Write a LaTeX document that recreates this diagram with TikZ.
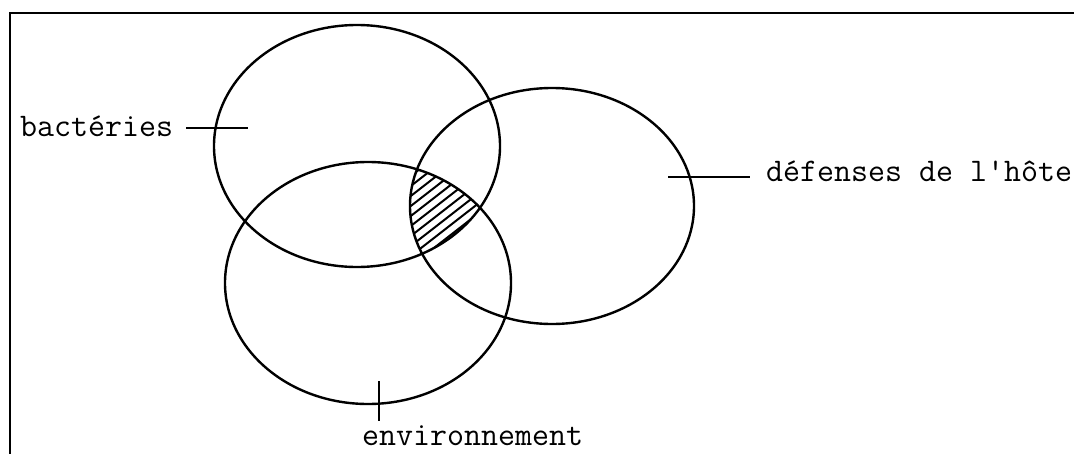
\documentclass[tikz,border=0pt]{standalone}
\usepackage{fontspec}
\usepackage{tikz}

\begin{document}
\begin{tikzpicture}[x=1pt,y=-1pt,
    ring/.style={line width=2.4pt},
    leader/.style={line width=2.6pt},
    hatch/.style={line width=2pt},
    lbl/.style={font=\fontsize{33}{33}\selectfont\ttfamily\addfontfeatures{FakeBold=1.2},inner sep=0pt}]
  \useasboundingbox (0,0) rectangle (1074,453);
  % frame, cut off at the right and at the bottom
  \draw[line width=2pt] (10,470) -- (10,13) -- (1090,13);
  % centres of the three sets
  \coordinate (cBac) at (357,146);
  \coordinate (cEnv) at (368,283);
  \coordinate (cDef) at (552,206);
  \draw[ring] (cBac) ellipse [x radius=143,y radius=121];
  \draw[ring] (cEnv) ellipse [x radius=143,y radius=121];
  \draw[ring] (cDef) ellipse [x radius=142,y radius=118];
  % hatched overlap of all three
  \begin{scope}
    \clip (cBac) ellipse [x radius=143,y radius=121];
    \clip (cEnv) ellipse [x radius=143,y radius=121];
    \clip (cDef) ellipse [x radius=142,y radius=118];
    \foreach \c in {150,160,...,320}{
      \draw[hatch] (380,\c) -- ++(140,-109);
    }
  \end{scope}
  % labels and their leaders
  \node[lbl,anchor=base west] (bac) at (20,136) {bactéries};
  \coordinate (bacTip) at (248,128);
  \draw[leader] ([xshift=13]bac.east |- bacTip) -- (bacTip);
  \node[lbl,anchor=base west] (def) at (766,181) {défenses de l\textquotesingle hôte};
  \coordinate (defTip) at (668,177);
  \draw[leader] (defTip) -- ([xshift=-16]def.west |- defTip);
  \node[lbl,anchor=base west] (env) at (362,445) {environnement};
  \coordinate (envTip) at (379,381);
  \draw[leader] (envTip) -- ([yshift=4]envTip |- env.north);
\end{tikzpicture}
\end{document}
